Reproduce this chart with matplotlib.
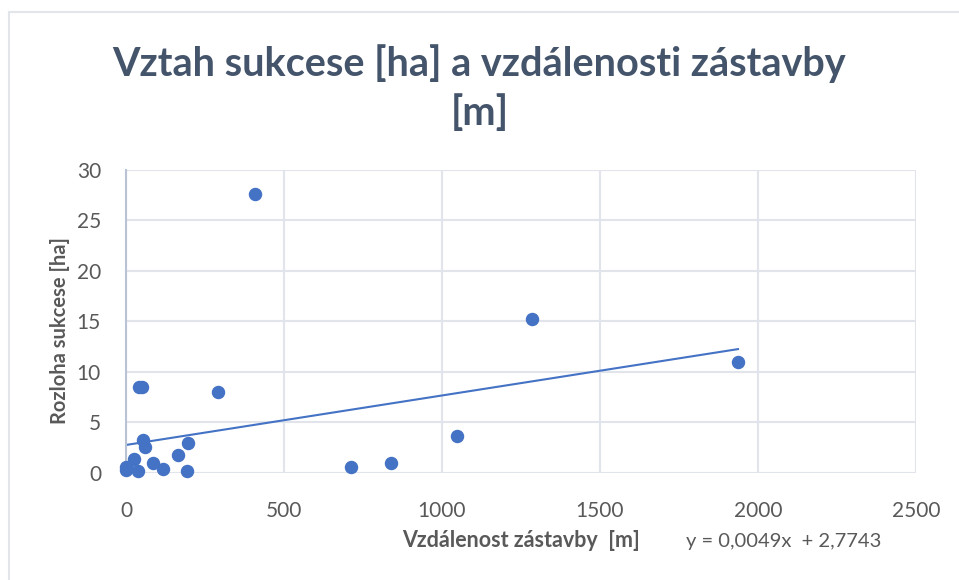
import numpy as np
import matplotlib.pyplot as plt
from matplotlib.patches import Rectangle

# distance to built-up area [m] and succession area [ha]
vzdalenost = [0, 0, 4, 25, 39, 42, 50, 55, 60, 84, 116, 166, 192, 195, 292,
              408, 712, 839, 1047, 1285, 1937]
rozloha = [0.3, 0.62, 0.45, 1.39, 0.2, 8.5, 8.5, 3.27, 2.6, 1.02, 0.4, 1.8,
           0.23, 2.94, 8.0, 27.6, 0.55, 1.0, 3.66, 15.2, 11.0]
# linear trend as given in the chart
slope, intercept = 0.0049, 2.7743

title_col = "#44546A"
text_col = "#595959"
dot_col = "#4472C4"

plt.rcParams['font.family'] = ['Lato', 'DejaVu Sans']

fig = plt.figure(figsize=(9.59, 5.8), dpi=100)
ax = fig.add_axes([0.1314, 0.1845, 0.8236, 0.5224])

# light frame of the chart area
fig.patches.append(Rectangle((9 / 959, -0.1), 1.2, 1 - 12 / 580 + 0.1,
                             transform=fig.transFigure, fill=False,
                             edgecolor="#E2E5EA", linewidth=1.5))

ax.scatter(vzdalenost, rozloha, s=75, color=dot_col, zorder=3, clip_on=False)
xs = np.array([min(vzdalenost), max(vzdalenost)])
ax.plot(xs, slope * xs + intercept, color=dot_col, linewidth=1.5, zorder=2)

ax.set_xlim(0, 2500)
ax.set_ylim(0, 30)
ax.set_xticks(np.arange(0, 2501, 500))
ax.set_yticks(np.arange(0, 31, 5))
ax.grid(True, color="#E1E5EB", linewidth=1.5)
ax.set_axisbelow(True)
for s in ["top", "right", "bottom"]:
    ax.spines[s].set_visible(False)
ax.spines["left"].set_color("#B9C3D3")
ax.spines["left"].set_linewidth(1.5)
ax.tick_params(length=0, labelsize=15, colors=text_col)
ax.tick_params(axis="x", pad=20)
ax.tick_params(axis="y", pad=18)

ax.set_xlabel("Vzdálenost zástavby  [m]", fontsize=15.5, fontweight="bold",
              color=text_col, va="center")
ax.xaxis.set_label_coords(0.5, -(541 - 473) / 303)
ax.set_ylabel("Rozloha sukcese [ha]", fontsize=14.5, fontweight="bold",
              color=text_col, va="center")
ax.yaxis.set_label_coords(-(126 - 60) / 790, (473 - 331) / 303)

fig.text(0.5, 0.848, "Vztah sukcese [ha] a vzdálenosti zástavby\n[m]",
         ha="center", va="center", fontsize=28.5, fontweight="bold",
         color=title_col, linespacing=1.35)
fig.text(0.715, 1 - 541 / 580, "y = 0,0049x  + 2,7743", fontsize=14.5,
         color=text_col, ha="left", va="center")

fig.savefig("out.png", dpi=100, facecolor="white")
